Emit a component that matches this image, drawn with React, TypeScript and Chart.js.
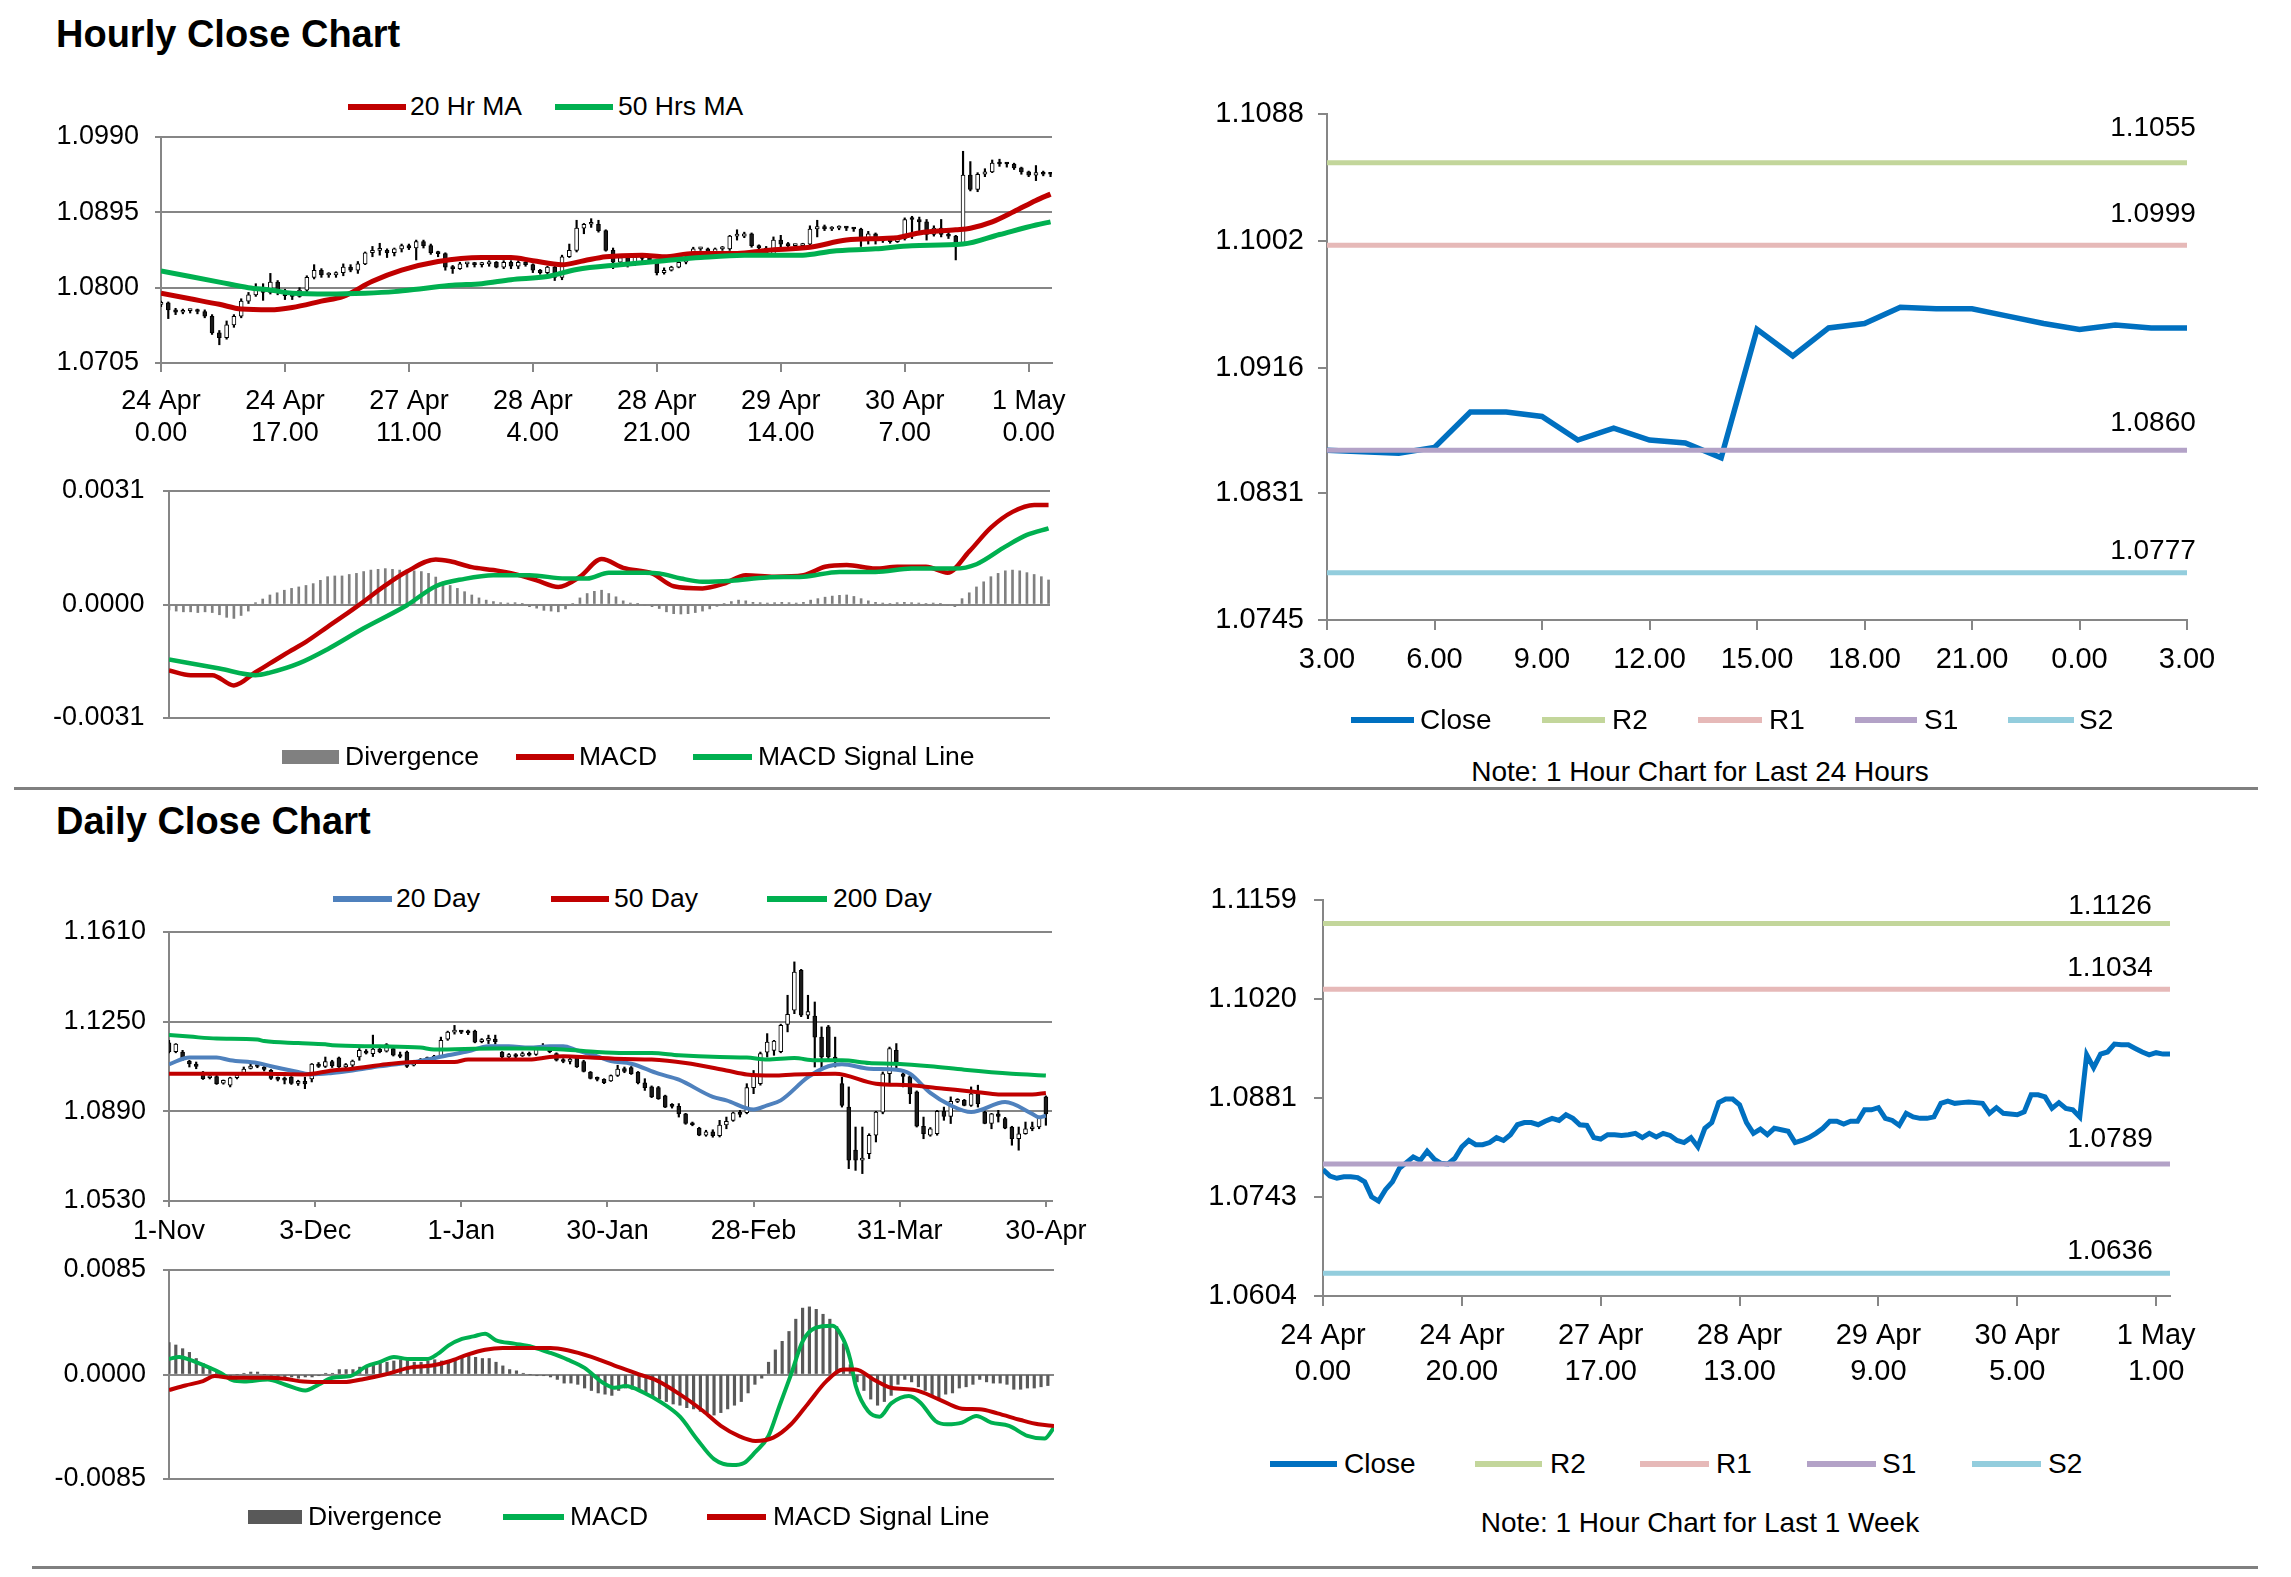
import React, { useEffect, useRef } from 'react';
import { Chart, registerables } from 'chart.js';

Chart.register(...registerables);

const FONT = "'Liberation Sans', Arial, Helvetica, sans-serif";
const GRID = '#868686';
const RED = '#C00000';
const GREEN = '#00B050';
const BLUE = '#4F81BD';
const CLOSE = '#0070C0';
const R2C = '#C3D69B';
const R1C = '#E6B9B8';
const S1C = '#B3A2C7';
const S2C = '#93CDDD';

// ---------------- Hourly candles (24 Apr 0:00 .. 1 May 3:00) ----------------
const hOpen = [
  1.0779, 1.0781, 1.0772, 1.0769, 1.0771, 1.0771, 1.0770, 1.0764, 1.0743, 1.0737,
  1.0753, 1.0764, 1.0783, 1.0791, 1.0799, 1.0794, 1.0807, 1.0796, 1.0790, 1.0789,
  1.0797, 1.0813, 1.0822, 1.0816, 1.0816, 1.0819, 1.0826, 1.0822, 1.0830, 1.0844,
  1.0847, 1.0847, 1.0844, 1.0849, 1.0853, 1.0850, 1.0858, 1.0853, 1.0844, 1.0843,
  1.0826, 1.0824, 1.0830, 1.0830, 1.0829, 1.0830, 1.0832, 1.0826, 1.0832, 1.0827,
  1.0832, 1.0829, 1.0822, 1.0819, 1.0826, 1.0813, 1.0839, 1.0847, 1.0875, 1.0880,
  1.0880, 1.0872, 1.0847, 1.0832, 1.0838, 1.0830, 1.0839, 1.0837, 1.0835, 1.0819,
  1.0822, 1.0826, 1.0832, 1.0839, 1.0849, 1.0849, 1.0845, 1.0849, 1.0849, 1.0865,
  1.0865, 1.0868, 1.0853, 1.0850, 1.0843, 1.0860, 1.0855, 1.0853, 1.0853, 1.0855,
  1.0874, 1.0877, 1.0874, 1.0875, 1.0876, 1.0875, 1.0874, 1.0860, 1.0868, 1.0860,
  1.0859, 1.0858, 1.0862, 1.0888, 1.0886, 1.0883, 1.0867, 1.0875, 1.0867, 1.0865,
  1.0855, 1.0942, 1.0924, 1.0943, 1.0946, 1.0957, 1.0957, 1.0956, 1.0951, 1.0946,
  1.0942, 1.0945, 1.0944,
];
const hHigh = [
  1.0783, 1.0782, 1.0774, 1.0773, 1.0773, 1.0773, 1.0772, 1.0766, 1.0746, 1.0758,
  1.0766, 1.0786, 1.0794, 1.0805, 1.0805, 1.0818, 1.0809, 1.0798, 1.0794, 1.0800,
  1.0815, 1.0829, 1.0824, 1.0819, 1.0820, 1.0830, 1.0829, 1.0833, 1.0845, 1.0852,
  1.0856, 1.0849, 1.0850, 1.0855, 1.0855, 1.0860, 1.0860, 1.0855, 1.0846, 1.0844,
  1.0828, 1.0832, 1.0832, 1.0832, 1.0832, 1.0834, 1.0833, 1.0834, 1.0834, 1.0834,
  1.0833, 1.0830, 1.0823, 1.0827, 1.0827, 1.0841, 1.0855, 1.0885, 1.0881, 1.0887,
  1.0885, 1.0873, 1.0850, 1.0841, 1.0839, 1.0841, 1.0841, 1.0840, 1.0836, 1.0825,
  1.0827, 1.0833, 1.0840, 1.0851, 1.0851, 1.0850, 1.0850, 1.0852, 1.0866, 1.0873,
  1.0870, 1.0869, 1.0854, 1.0852, 1.0864, 1.0866, 1.0857, 1.0855, 1.0856, 1.0878,
  1.0885, 1.0879, 1.0877, 1.0878, 1.0877, 1.0876, 1.0875, 1.0871, 1.0869, 1.0863,
  1.0862, 1.0864, 1.0888, 1.0890, 1.0889, 1.0886, 1.0878, 1.0886, 1.0870, 1.0866,
  1.0972, 1.0959, 1.0945, 1.0950, 1.0961, 1.0962, 1.0958, 1.0957, 1.0952, 1.0947,
  1.0954, 1.0947, 1.0945,
];
const hLow = [
  1.0776, 1.0761, 1.0766, 1.0767, 1.0768, 1.0767, 1.0762, 1.0741, 1.0728, 1.0735,
  1.0750, 1.0762, 1.0780, 1.0789, 1.0784, 1.0792, 1.0791, 1.0785, 1.0785, 1.0788,
  1.0794, 1.0811, 1.0813, 1.0813, 1.0813, 1.0815, 1.0820, 1.0818, 1.0829, 1.0839,
  1.0841, 1.0838, 1.0840, 1.0845, 1.0848, 1.0835, 1.0850, 1.0842, 1.0839, 1.0822,
  1.0818, 1.0823, 1.0826, 1.0826, 1.0826, 1.0827, 1.0825, 1.0824, 1.0824, 1.0824,
  1.0827, 1.0819, 1.0817, 1.0817, 1.0809, 1.0810, 1.0838, 1.0845, 1.0868, 1.0876,
  1.0870, 1.0846, 1.0824, 1.0830, 1.0826, 1.0828, 1.0834, 1.0833, 1.0816, 1.0817,
  1.0821, 1.0825, 1.0830, 1.0838, 1.0847, 1.0844, 1.0844, 1.0847, 1.0847, 1.0860,
  1.0863, 1.0851, 1.0848, 1.0842, 1.0842, 1.0851, 1.0849, 1.0849, 1.0850, 1.0853,
  1.0864, 1.0872, 1.0872, 1.0873, 1.0872, 1.0871, 1.0852, 1.0855, 1.0855, 1.0857,
  1.0856, 1.0857, 1.0860, 1.0862, 1.0870, 1.0860, 1.0865, 1.0864, 1.0862, 1.0835,
  1.0853, 1.0922, 1.0921, 1.0940, 1.0945, 1.0953, 1.0952, 1.0949, 1.0943, 1.0940,
  1.0935, 1.0941, 1.0940,
];
const hClose = [
  1.0781, 1.0772, 1.0769, 1.0771, 1.0771, 1.0770, 1.0764, 1.0743, 1.0737, 1.0753,
  1.0764, 1.0783, 1.0791, 1.0799, 1.0794, 1.0807, 1.0796, 1.0790, 1.0789, 1.0797,
  1.0813, 1.0822, 1.0816, 1.0816, 1.0819, 1.0826, 1.0822, 1.0830, 1.0844, 1.0847,
  1.0847, 1.0844, 1.0849, 1.0853, 1.0850, 1.0858, 1.0853, 1.0844, 1.0843, 1.0826,
  1.0824, 1.0830, 1.0830, 1.0829, 1.0830, 1.0832, 1.0826, 1.0832, 1.0827, 1.0832,
  1.0829, 1.0822, 1.0819, 1.0826, 1.0813, 1.0839, 1.0847, 1.0875, 1.0880, 1.0880,
  1.0872, 1.0847, 1.0832, 1.0838, 1.0830, 1.0839, 1.0837, 1.0835, 1.0819, 1.0822,
  1.0826, 1.0832, 1.0839, 1.0849, 1.0849, 1.0845, 1.0849, 1.0849, 1.0865, 1.0865,
  1.0868, 1.0853, 1.0850, 1.0843, 1.0860, 1.0855, 1.0853, 1.0853, 1.0855, 1.0874,
  1.0877, 1.0874, 1.0875, 1.0876, 1.0875, 1.0874, 1.0860, 1.0868, 1.0860, 1.0859,
  1.0858, 1.0862, 1.0886, 1.0886, 1.0883, 1.0867, 1.0875, 1.0867, 1.0865, 1.0855,
  1.0942, 1.0924, 1.0943, 1.0946, 1.0957, 1.0956, 1.0956, 1.0951, 1.0946, 1.0942,
  1.0945, 1.0943, 1.0943,
];

// hourly moving averages [barIndex, value]
const h20MA = [
  [0, 1.0793], [4, 1.0786], [8, 1.0779], [11, 1.0773], [15, 1.0772], [18, 1.0775], [22, 1.0783],
  [25, 1.0789], [29, 1.0808], [33, 1.0822], [38, 1.0833], [44, 1.0838], [48, 1.0838], [51, 1.0834],
  [55, 1.0829], [58, 1.0834], [61, 1.0839], [66, 1.0841], [69, 1.0839], [73, 1.0843], [79, 1.0843],
  [83, 1.0847], [89, 1.0851], [94, 1.0860], [99, 1.0862], [101, 1.0863], [104, 1.0869], [109, 1.0873],
  [111, 1.0875], [114, 1.0883], [117, 1.0896], [120, 1.0910], [122, 1.0918],
];
const h50MA = [
  [0, 1.0821], [4, 1.0814], [8, 1.0807], [12, 1.0800], [15, 1.0797], [18, 1.0793], [23, 1.0792],
  [28, 1.0793], [32, 1.0795], [36, 1.0799], [40, 1.0803], [44, 1.0805], [48, 1.0810], [53, 1.0814],
  [57, 1.0823], [63, 1.0829], [69, 1.0834], [74, 1.0838], [80, 1.0841], [88, 1.0841], [92, 1.0846],
  [98, 1.0849], [103, 1.0853], [110, 1.0855], [115, 1.0867], [120, 1.0879], [122, 1.0883],
];

// hourly MACD
const hMacd = [
  [0, -0.0018], [3, -0.00193], [6, -0.00193], [9, -0.00221], [12, -0.00185], [14, -0.00161],
  [17, -0.00125], [19, -0.00102], [22, -0.00061], [24, -0.00034], [27, 0.00008], [30, 0.00052],
  [33, 0.0009], [37, 0.00123], [39, 0.00118], [42, 0.00102], [45, 0.00094], [48, 0.00083],
  [51, 0.00066], [54, 0.00048], [57, 0.00076], [60, 0.00124], [63, 0.001], [67, 0.00085],
  [70, 0.0005], [74, 0.00044], [77, 0.00057], [80, 0.0008], [84, 0.00076], [88, 0.0008],
  [91, 0.00103], [94, 0.00108], [98, 0.00098], [101, 0.00103], [105, 0.00103], [108, 0.00087],
  [111, 0.00145], [114, 0.0021], [117, 0.00253], [120, 0.00272], [122, 0.00272],
];
const hSignal = [
  [0, -0.0015], [7, -0.00175], [12, -0.00193], [14, -0.00186], [18, -0.00161], [22, -0.00122],
  [27, -0.00065], [33, -0.00002], [37, 0.0005], [41, 0.0007], [45, 0.0008], [50, 0.0008],
  [55, 0.00071], [58, 0.00071], [61, 0.00087], [66, 0.00087], [68, 0.00085], [71, 0.00071],
  [74, 0.00062], [78, 0.00065], [83, 0.00074], [88, 0.00076], [93, 0.00089], [98, 0.00089],
  [103, 0.00098], [109, 0.00098], [112, 0.0011], [116, 0.00158], [119, 0.0019], [122, 0.00208],
];
const hDiv = [
  -0.00015, -0.00018, -0.0002, -0.0002, -0.00022, -0.0002, -0.00022, -0.00028, -0.00035, -0.00038,
  -0.0003, -0.00018, 0.00005, 0.00015, 0.00026, 0.00032, 0.00039, 0.00044, 0.00048, 0.00052,
  0.00057, 0.00066, 0.00076, 0.00078, 0.00078, 0.00082, 0.00085, 0.0009, 0.00094, 0.00096,
  0.00098, 0.00096, 0.00094, 0.00094, 0.00092, 0.0009, 0.00085, 0.00075, 0.00062, 0.00052,
  0.00044, 0.00035, 0.00026, 0.00018, 0.00012, 0.00008, 0.00005, 0.00004, 0.00005, 0.00002,
  -0.00006, -0.0001, -0.00016, -0.00018, -0.0002, -0.00012, 0.00003, 0.00018, 0.0003, 0.00036,
  0.00039, 0.0003, 0.00021, 0.0001, 0.00004, 0.00001, -0.00002, -0.00006, -0.00011, -0.0002,
  -0.00025, -0.00026, -0.00025, -0.00022, -0.00018, -0.00012, -0.00005, 0.00003, 0.00008, 0.00012,
  0.0001, 0.00006, 0.00005, 0.00004, 0.00005, 0.00006, 0.00005, 0.00004, 0.00006, 0.00012,
  0.00016, 0.0002, 0.00023, 0.00025, 0.00026, 0.00022, 0.00016, 0.0001, 0.00006, 0.00004,
  0.00003, 0.00005, 0.00006, 0.00005, 0.00004, 0.00003, 0.00004, 0.00002, -0.00003, -0.00006,
  0.00016, 0.00032, 0.00048, 0.00062, 0.00076, 0.00085, 0.00092, 0.00094, 0.00092, 0.00087,
  0.00082, 0.00076, 0.00067,
];

const hTickPos = [0, 17, 34, 51, 68, 85, 102, 119];
const hTickLabels = [
  ['24 Apr', '0.00'], ['24 Apr', '17.00'], ['27 Apr', '11.00'], ['28 Apr', '4.00'],
  ['28 Apr', '21.00'], ['29 Apr', '14.00'], ['30 Apr', '7.00'], ['1 May', '0.00'],
];
const hPriceTicks = [1.0705, 1.08, 1.0895, 1.099];
const hMacdTicks = [-0.0031, 0, 0.0031];

// ---------------- Last 24 hours & last week ----------------
const dayStart = 98; // 30 Apr 3:00
const dayTickPos = [0, 3, 6, 9, 12, 15, 18, 21, 24];
const dayTickLabels = ['3.00', '6.00', '9.00', '12.00', '15.00', '18.00', '21.00', '0.00', '3.00'];
const dayTicks = [1.0745, 1.0831, 1.0916, 1.1002, 1.1088];
const dayLevels = [1.1055, 1.0999, 1.086, 1.0777]; // R2, R1, S1, S2

const weekTickPos = [0, 20, 40, 60, 80, 100, 120];
const weekTickLabels = [
  ['24 Apr', '0.00'], ['24 Apr', '20.00'], ['27 Apr', '17.00'], ['28 Apr', '13.00'],
  ['29 Apr', '9.00'], ['30 Apr', '5.00'], ['1 May', '1.00'],
];
const weekTicks = [1.0604, 1.0743, 1.0881, 1.102, 1.1159];
const weekLevels = [1.1126, 1.1034, 1.0789, 1.0636]; // R2, R1, S1, S2

// ---------------- Daily candles (1 Nov .. 30 Apr) ----------------
const dOpen = [
  1.1165, 1.113, 1.1128, 1.1092, 1.108, 1.1048, 1.1025, 1.103, 1.1003, 1.0995,
  1.1025, 1.104, 1.1062, 1.1072, 1.1068, 1.1055, 1.1024, 1.1018, 1.1028, 1.1002,
  1.101, 1.102, 1.108, 1.107, 1.109, 1.1105, 1.1068, 1.1075, 1.1108, 1.113,
  1.1122, 1.114, 1.1132, 1.1142, 1.1115, 1.1128, 1.1075, 1.109, 1.1098, 1.1104,
  1.1112, 1.118, 1.1208, 1.121, 1.1208, 1.1212, 1.117, 1.1175, 1.118, 1.1128,
  1.1108, 1.1118, 1.1112, 1.1122, 1.1118, 1.114, 1.1148, 1.1122, 1.1095, 1.109,
  1.1105, 1.109, 1.1048, 1.1022, 1.1018, 1.1012, 1.1034, 1.1062, 1.1066, 1.1048,
  1.1004, 1.0988, 1.0985, 1.0952, 1.0918, 1.091, 1.088, 1.0843, 1.0822, 1.0794,
  1.0808, 1.0792, 1.0835, 1.0854, 1.0884, 1.0885, 1.0985, 1.1001, 1.1128, 1.1135,
  1.113, 1.1239, 1.1296, 1.1456, 1.1276, 1.1272, 1.1188, 1.1229, 1.1108, 1.1001,
  1.0907, 1.0734, 1.0694, 1.072, 1.0794, 1.0887, 1.1041, 1.1135, 1.1041, 1.103,
  1.0968, 1.083, 1.0794, 1.08, 1.089, 1.087, 1.093, 1.0934, 1.0914, 1.096,
  1.0887, 1.0841, 1.088, 1.0861, 1.0827, 1.078, 1.08, 1.082, 1.0827, 1.0948,
];
const dHigh = [
  1.1175, 1.1162, 1.1135, 1.1095, 1.1088, 1.105, 1.1034, 1.1035, 1.1016, 1.1027,
  1.1041, 1.1068, 1.1081, 1.108, 1.107, 1.1058, 1.1028, 1.1028, 1.103, 1.1015,
  1.1027, 1.1082, 1.1086, 1.1108, 1.1095, 1.1108, 1.1082, 1.1096, 1.1142, 1.1138,
  1.1196, 1.1145, 1.1162, 1.1148, 1.1128, 1.1132, 1.1095, 1.1102, 1.1108, 1.1115,
  1.1188, 1.1212, 1.1235, 1.1215, 1.1216, 1.1216, 1.1182, 1.1196, 1.1196, 1.113,
  1.1122, 1.1122, 1.1128, 1.1128, 1.1148, 1.1162, 1.115, 1.1125, 1.1102, 1.1108,
  1.1108, 1.1095, 1.105, 1.1028, 1.1021, 1.1036, 1.1075, 1.1068, 1.107, 1.105,
  1.1021, 1.0992, 1.099, 1.0955, 1.0921, 1.0921, 1.0882, 1.0847, 1.0826, 1.0814,
  1.0816, 1.0854, 1.0867, 1.0887, 1.0894, 1.1001, 1.1054, 1.1128, 1.1202, 1.1175,
  1.124, 1.1356, 1.149, 1.146, 1.1356, 1.1329, 1.1229, 1.1235, 1.1188, 1.1027,
  1.0988, 1.0827, 1.0827, 1.08, 1.089, 1.1048, 1.1148, 1.1162, 1.1045, 1.1034,
  1.0972, 1.0867, 1.0825, 1.0894, 1.0907, 1.0948, 1.0941, 1.0938, 1.0988, 1.0995,
  1.0892, 1.0882, 1.0894, 1.0866, 1.083, 1.0827, 1.0847, 1.0847, 1.0867, 1.0952,
];
const dLow = [
  1.1125, 1.1125, 1.1095, 1.1068, 1.1061, 1.1018, 1.102, 1.0998, 1.0999, 1.0988,
  1.102, 1.1038, 1.106, 1.1065, 1.1052, 1.1018, 1.1012, 1.1, 1.0998, 1.0994,
  1.0981, 1.1008, 1.1066, 1.1066, 1.1066, 1.1066, 1.1065, 1.1068, 1.1095, 1.112,
  1.111, 1.1125, 1.1128, 1.1112, 1.1105, 1.1066, 1.1072, 1.1085, 1.1095, 1.11,
  1.111, 1.1175, 1.12, 1.1202, 1.1198, 1.1165, 1.1165, 1.1162, 1.116, 1.1105,
  1.1104, 1.1105, 1.111, 1.1112, 1.1115, 1.1138, 1.1125, 1.1092, 1.1085, 1.108,
  1.1066, 1.1048, 1.102, 1.1012, 1.1001, 1.101, 1.103, 1.1045, 1.1038, 1.1,
  1.0974, 1.0945, 1.0938, 1.0905, 1.0903, 1.0867, 1.0838, 1.0832, 1.0792, 1.079,
  1.0786, 1.0787, 1.082, 1.085, 1.0867, 1.088, 1.0961, 1.0995, 1.1108, 1.1115,
  1.1125, 1.1209, 1.1282, 1.127, 1.1262, 1.1068, 1.1061, 1.11, 1.1068, 1.0907,
  1.066, 1.0653, 1.064, 1.07, 1.0767, 1.088, 1.1, 1.1054, 1.0988, 1.0921,
  1.0827, 1.078, 1.079, 1.0794, 1.0854, 1.0841, 1.0925, 1.0912, 1.091, 1.0907,
  1.084, 1.082, 1.0847, 1.082, 1.0754, 1.0734, 1.0798, 1.0812, 1.082, 1.0834,
];
const dClose = [
  1.113, 1.116, 1.1102, 1.108, 1.107, 1.1021, 1.103, 1.1001, 1.1014, 1.1025,
  1.1036, 1.106, 1.1072, 1.107, 1.1058, 1.1022, 1.1018, 1.1015, 1.1002, 1.101,
  1.1, 1.108, 1.107, 1.109, 1.1072, 1.1068, 1.1078, 1.1092, 1.1135, 1.1124,
  1.114, 1.113, 1.1158, 1.1115, 1.111, 1.107, 1.1088, 1.1098, 1.1104, 1.111,
  1.1175, 1.1208, 1.121, 1.1208, 1.1205, 1.1168, 1.1175, 1.118, 1.117, 1.1108,
  1.1118, 1.111, 1.1122, 1.1115, 1.114, 1.1148, 1.113, 1.1095, 1.109, 1.11,
  1.1068, 1.105, 1.1022, 1.1018, 1.1005, 1.1034, 1.106, 1.105, 1.1041, 1.1004,
  1.0985, 1.0948, 1.0941, 1.0907, 1.091, 1.088, 1.0841, 1.0836, 1.0794, 1.0808,
  1.0792, 1.0835, 1.085, 1.0884, 1.0878, 1.0985, 1.104, 1.1122, 1.1168, 1.1172,
  1.1235, 1.1279, 1.1449, 1.1276, 1.129, 1.1188, 1.1108, 1.1108, 1.11, 1.0914,
  1.0694, 1.0694, 1.07, 1.0794, 1.0887, 1.1041, 1.1142, 1.1088, 1.103, 1.096,
  1.083, 1.08, 1.082, 1.089, 1.087, 1.093, 1.0935, 1.0914, 1.096, 1.0921,
  1.0841, 1.088, 1.087, 1.0822, 1.078, 1.08, 1.082, 1.0825, 1.0862, 1.088,
];

const d20MA = [
  [0, 1.1079], [3, 1.1106], [7, 1.1106], [9, 1.1095], [13, 1.1084], [15, 1.1071], [19, 1.1048],
  [21, 1.1038], [24, 1.1044], [27, 1.1054], [31, 1.1071], [37, 1.1092], [41, 1.1115], [44, 1.1131],
  [47, 1.1151], [50, 1.1151], [53, 1.1146], [56, 1.1151], [58, 1.1151], [60, 1.1135], [63, 1.1111],
  [65, 1.1092], [68, 1.1081], [72, 1.1041], [75, 1.1017], [80, 1.0948], [82, 1.0934], [86, 1.0897],
  [88, 1.0914], [90, 1.0934], [94, 1.1027], [97, 1.1071], [99, 1.1079], [103, 1.1061], [107, 1.1057],
  [109, 1.1041], [112, 1.0964], [115, 1.0914], [118, 1.0887], [123, 1.0927], [127, 1.088],
  [128, 1.0866], [129, 1.0873],
];
const d50MA = [
  [0, 1.1041], [9, 1.1041], [14, 1.1041], [20, 1.1038], [24, 1.1054], [27, 1.1061], [32, 1.1079],
  [36, 1.1088], [42, 1.1088], [44, 1.1098], [48, 1.1098], [53, 1.1098], [56, 1.1108], [58, 1.1111],
  [62, 1.1106], [67, 1.11], [71, 1.1098], [76, 1.1084], [82, 1.1054], [85, 1.1038], [89, 1.1034],
  [92, 1.1038], [98, 1.1041], [104, 1.1001], [109, 1.0995], [114, 1.0981], [119, 1.0967],
  [122, 1.0958], [127, 1.0958], [129, 1.0964],
];
const d200MA = [
  [0, 1.1196], [3, 1.119], [7, 1.1182], [13, 1.1178], [14, 1.1172], [19, 1.1164], [23, 1.1159],
  [24, 1.1155], [31, 1.1151], [37, 1.1146], [39, 1.1138], [48, 1.1142], [53, 1.1142], [58, 1.1138],
  [63, 1.1128], [67, 1.1124], [71, 1.1124], [75, 1.1115], [81, 1.1108], [85, 1.1106], [88, 1.1098],
  [92, 1.1104], [95, 1.1095], [99, 1.1095], [103, 1.1084], [107, 1.1081], [112, 1.1071],
  [117, 1.1057], [124, 1.1041], [129, 1.1034],
];

const dMacd = [
  [0, 0.00127], [1.5, 0.00143], [3, 0.00121], [6, 0.00054], [7.6, 0.00013], [9.3, -0.00046],
  [11, -0.00057], [14.5, -0.0004], [17, -0.00081], [20, -0.0013], [22, -0.00081], [24, -0.00027],
  [26.6, -0.00013], [29, 0.00067], [31, 0.00103], [33, 0.00143], [35, 0.00127], [38, 0.00127],
  [39.5, 0.0017], [41, 0.00235], [43, 0.00289], [44.7, 0.0031], [46.4, 0.00332], [48, 0.00278],
  [50.7, 0.00251], [53.3, 0.00224], [56, 0.00175], [58.5, 0.00121], [61, 0.00054], [63.7, -0.00067],
  [65.4, -0.00108], [67, -0.00094], [69.7, -0.00148], [72.3, -0.00229], [75, -0.00343],
  [77.5, -0.00526], [80, -0.00688], [82.7, -0.00737], [84.4, -0.0072], [86, -0.00634],
  [88, -0.00499], [89.6, -0.00256], [91.3, 0], [93, 0.0027], [94.8, 0.00378], [97.4, 0.00397],
  [99, 0.00283], [100, 0.00121], [100.8, -0.00094], [102.6, -0.00297], [104.3, -0.00343],
  [106, -0.00235], [108.6, -0.00175], [110.3, -0.00229], [112.5, -0.00378], [114.2, -0.00405],
  [116.4, -0.00391], [118.5, -0.00337], [120.7, -0.00391], [123.3, -0.00418], [126, -0.00499],
  [128.5, -0.00521], [129.9, -0.00432],
];
const dSignal = [
  [0, -0.00127], [2.4, -0.00089], [5, -0.00054], [6.7, -0.00013], [9.3, -0.00027], [14.5, -0.00027],
  [17, -0.00035], [19.7, -0.00057], [23, -0.00062], [25.7, -0.00062], [28.3, -0.0004], [31.7, 0],
  [35.2, 0.00054], [38.6, 0.00073], [41.2, 0.00108], [43.8, 0.00162], [46.4, 0.00202], [49, 0.00216],
  [52.5, 0.00216], [56, 0.00216], [58.5, 0.00197], [62, 0.00143], [65.4, 0.00073], [69, 0],
  [71.5, -0.00046], [75, -0.00162], [78.4, -0.00297], [81, -0.00418], [83.6, -0.00499],
  [86.1, -0.0054], [88.7, -0.00513], [91.3, -0.00405], [93.9, -0.00229], [96.5, -0.00054],
  [99, 0.0004], [100.8, 0.0004], [103.4, -0.0004], [106, -0.00108], [109.5, -0.00127],
  [113, -0.00202], [116.4, -0.00278], [119, -0.00283], [121.6, -0.00316], [125, -0.0037],
  [127.6, -0.00405], [129.9, -0.00418],
];
const dDiv = [
  0.0026, 0.0024, 0.0021, 0.0018, 0.0013, 0.0009, 0.0005, 0.0002, 0.0, -0.0001,
  0.0, 0.0001, 0.0002, 0.0002, 0.0, -0.0001, -0.0002, -0.0002, -0.0002, -0.0003,
  -0.0002, -0.0002, -0.0001, 0.0001, 0.0001, 0.0004, 0.0004, 0.0004, 0.0006, 0.0007,
  0.0008, 0.0009, 0.001, 0.0011, 0.0012, 0.0012, 0.001, 0.001, 0.0011, 0.0012,
  0.0011, 0.0011, 0.0012, 0.0014, 0.0015, 0.0014, 0.0013, 0.0013, 0.001, 0.0007,
  0.0004, 0.0003, 0.0001, 0.0, -0.0001, -0.0001, -0.0002, -0.0004, -0.0007, -0.0007,
  -0.0008, -0.0011, -0.0013, -0.0015, -0.0016, -0.0017, -0.0013, -0.0011, -0.0012, -0.0013,
  -0.0016, -0.0018, -0.002, -0.0022, -0.0024, -0.0025, -0.0027, -0.0028, -0.003, -0.0031,
  -0.0033, -0.0031, -0.0028, -0.0025, -0.0022, -0.0015, -0.0008, -0.0003, 0.001, 0.002,
  0.0027, 0.0035, 0.0045, 0.0054, 0.0055, 0.0053, 0.0049, 0.0045, 0.0039, 0.0025,
  0.0008, -0.0006, -0.0013, -0.002, -0.0025, -0.0022, -0.0017, -0.0008, -0.0004, -0.0006,
  -0.001, -0.0013, -0.0018, -0.0019, -0.0016, -0.0015, -0.0011, -0.001, -0.0008, -0.0004,
  -0.0006, -0.0007, -0.0007, -0.0008, -0.0012, -0.0012, -0.0011, -0.0011, -0.001, -0.0009,
];

const dTickPos = [0, 21.5, 43, 64.5, 86, 107.5, 129];
const dTickLabels = ['1-Nov', '3-Dec', '1-Jan', '30-Jan', '28-Feb', '31-Mar', '30-Apr'];
const dPriceTicks = [1.053, 1.089, 1.125, 1.161];
const dMacdTicks = [-0.0085, 0, 0.0085];

// ---------------- helpers ----------------
function yAxis(o: any) {
  return {
    type: 'linear',
    position: 'left',
    min: o.min,
    max: o.max,
    afterBuildTicks: (s: any) => {
      s.ticks = o.ticks.map((v: number) => ({ value: v }));
    },
    afterFit: (s: any) => {
      s.width = o.width;
    },
    ticks: {
      autoSkip: false,
      padding: o.pad,
      color: '#000',
      font: { family: FONT, size: o.size },
      callback: (v: any) => Number(v).toFixed(4),
    },
    grid: {
      display: true,
      drawOnChartArea: o.onArea,
      drawTicks: true,
      tickLength: o.tl,
      color: GRID,
      lineWidth: 2,
      tickColor: GRID,
      tickWidth: 2,
    },
    border: { display: true, color: GRID, width: 2 },
  };
}

function xAxis(o: any) {
  return {
    type: 'linear',
    position: 'bottom',
    display: o.display !== false,
    min: o.min,
    max: o.max,
    offset: false,
    afterBuildTicks: (s: any) => {
      s.ticks = o.ticks.map((v: number) => ({ value: v }));
    },
    afterFit: (s: any) => {
      if (o.height !== undefined) s.height = o.height;
    },
    ticks: {
      autoSkip: false,
      maxRotation: 0,
      minRotation: 0,
      padding: o.pad || 0,
      color: '#000',
      font: { family: FONT, size: o.size || 27, lineHeight: o.lineHeight || 1.2 },
      callback: (v: any) => {
        const k = o.ticks.findIndex((t: number) => Math.abs(t - Number(v)) < 1e-6);
        return k >= 0 && o.labels ? o.labels[k] : '';
      },
    },
    grid: {
      display: true,
      offset: false,
      drawOnChartArea: false,
      drawTicks: true,
      tickLength: o.tl || 0,
      color: GRID,
      lineWidth: 2,
      tickColor: GRID,
      tickWidth: 2,
    },
    border: { display: true, color: GRID, width: 2 },
  };
}

function base(padding: any, scales: any, extra: any = {}) {
  return {
    animation: false,
    responsive: false,
    maintainAspectRatio: false,
    events: [],
    layout: { padding },
    plugins: { legend: { display: false }, tooltip: { enabled: false }, ...extra },
    scales,
  };
}

function curve(pairs: number[][], color: string, width: number, order: number) {
  return {
    type: 'line',
    data: pairs.map(([x, y]) => ({ x, y })),
    borderColor: color,
    backgroundColor: color,
    borderWidth: width,
    pointRadius: 0,
    fill: false,
    cubicInterpolationMode: 'monotone',
    order,
  };
}

function series(values: number[], color: string, width: number, order: number) {
  return {
    type: 'line',
    data: values.map((y, i) => ({ x: i, y })),
    borderColor: color,
    backgroundColor: color,
    borderWidth: width,
    pointRadius: 0,
    fill: false,
    tension: 0,
    order,
  };
}

function level(value: number, xMax: number, color: string, dy: number, order: number) {
  return {
    type: 'line',
    data: [
      { x: 0, y: value },
      { x: xMax, y: value },
    ],
    borderColor: color,
    backgroundColor: color,
    borderWidth: 5,
    pointRadius: 0,
    fill: false,
    order,
    levelValue: value,
    labelDy: dy,
  };
}

function candles(o: number[], h: number[], l: number[], c: number[], bodyW: number, order: number) {
  return [
    {
      type: 'bar',
      data: l.map((v, i) => ({ x: i, y: [v, h[i]] })),
      backgroundColor: '#000',
      borderWidth: 0,
      barThickness: 1.5,
      grouped: false,
      order: order + 1,
    },
    {
      type: 'bar',
      data: o.map((v, i) => ({ x: i, y: [v, c[i]] })),
      backgroundColor: o.map((v, i) => (c[i] >= v ? '#FFFFFF' : '#1A1A1A')),
      borderColor: '#000',
      borderWidth: 1,
      borderSkipped: false,
      barThickness: bodyW,
      minBarLength: 2,
      grouped: false,
      order,
    },
  ];
}

function histo(vals: number[], color: string, w: number) {
  return {
    type: 'bar',
    data: vals.map((y, i) => ({ x: i, y })),
    backgroundColor: color,
    borderWidth: 0,
    barThickness: w,
    grouped: false,
    order: 9,
  };
}

const levelLabelPlugin = {
  id: 'levelLabels',
  afterDatasetsDraw(chart: any, _args: any, opts: any) {
    const { ctx, chartArea, scales } = chart;
    ctx.save();
    ctx.font = `${opts.size}px ${FONT}`;
    ctx.fillStyle = '#000';
    ctx.textAlign = 'center';
    ctx.textBaseline = 'middle';
    chart.data.datasets.forEach((ds: any) => {
      if (ds.levelValue === undefined) return;
      const y = scales.y.getPixelForValue(ds.levelValue);
      ctx.fillText(ds.levelValue.toFixed(4), chartArea.right + opts.dx, y - ds.labelDy);
    });
    ctx.restore();
  },
};

// ---------------- chart configs ----------------
const makeHourly = () => ({
  type: 'bar',
  data: {
    datasets: [
      curve(h50MA, GREEN, 5, 0),
      curve(h20MA, RED, 5, 1),
      ...candles(hOpen, hHigh, hLow, hClose, 4, 2),
    ],
  },
  options: base(
    { top: 37, right: 48, left: 0, bottom: 0 },
    {
      x: xAxis({ min: 0, max: 122.2, ticks: hTickPos, labels: hTickLabels, height: 97, tl: 9, pad: 14.5, size: 27, lineHeight: 1.15 }),
      y: yAxis({ min: 1.0705, max: 1.099, ticks: hPriceTicks, width: 161, tl: 6, pad: 16, size: 27, onArea: true }),
    }
  ),
});

const makeHourlyMacd = () => ({
  type: 'bar',
  data: {
    datasets: [curve(hSignal, GREEN, 4.5, 0), curve(hMacd, RED, 4.5, 1), histo(hDiv, '#808080', 2)],
  },
  options: base(
    { top: 41, right: 50, left: 0, bottom: 40 },
    {
      x: xAxis({ min: 0, max: 122.2, ticks: hTickPos, display: false }),
      y: yAxis({ min: -0.0031, max: 0.0031, ticks: hMacdTicks, width: 169, tl: 6, pad: 18.5, size: 27, onArea: true }),
    }
  ),
});

const makeDay = () => ({
  type: 'line',
  data: {
    datasets: [
      series(hClose.slice(dayStart), CLOSE, 5.5, 5),
      level(dayLevels[0], 24, R2C, 34, 1),
      level(dayLevels[1], 24, R1C, 31, 2),
      level(dayLevels[2], 24, S1C, 27, 3),
      level(dayLevels[3], 24, S2C, 22, 4),
    ],
  },
  options: base(
    { top: 34, right: 53, left: 0, bottom: 0 },
    {
      x: xAxis({ min: 0, max: 24, ticks: dayTickPos, labels: dayTickLabels, height: 90, tl: 10, pad: 12.6, size: 29, lineHeight: 1.2 }),
      y: yAxis({ min: 1.0745, max: 1.1088, ticks: dayTicks, width: 177, tl: 9, pad: 14, size: 29, onArea: false }),
    },
    { levelLabels: { dx: -34, size: 28 } }
  ),
  plugins: [levelLabelPlugin],
});

const makeDaily = () => ({
  type: 'bar',
  data: {
    datasets: [
      curve(d200MA, GREEN, 4, 0),
      curve(d50MA, RED, 4, 1),
      curve(d20MA, BLUE, 4, 2),
      ...candles(dOpen, dHigh, dLow, dClose, 4, 3),
    ],
  },
  options: base(
    { top: 42, right: 48, left: 0, bottom: 0 },
    {
      x: xAxis({ min: 0, max: 129.9, ticks: dTickPos, labels: dTickLabels, height: 49, tl: 6, pad: 8.4, size: 27, lineHeight: 1.2 }),
      y: yAxis({ min: 1.053, max: 1.161, ticks: dPriceTicks, width: 169, tl: 6, pad: 17, size: 27, onArea: true }),
    }
  ),
});

const makeDailyMacd = () => ({
  type: 'bar',
  data: {
    datasets: [curve(dSignal, RED, 4, 0), curve(dMacd, GREEN, 4, 1), histo(dDiv, '#595959', 2.5)],
  },
  options: base(
    { top: 40, right: 46, left: 0, bottom: 40 },
    {
      x: xAxis({ min: 0, max: 129.9, ticks: dTickPos, display: false }),
      y: yAxis({ min: -0.0085, max: 0.0085, ticks: dMacdTicks, width: 169, tl: 6, pad: 17, size: 27, onArea: true }),
    }
  ),
});

const makeWeek = () => ({
  type: 'line',
  data: {
    datasets: [
      series(hClose, CLOSE, 5, 5),
      level(weekLevels[0], 122, R2C, 17.5, 1),
      level(weekLevels[1], 122, R1C, 20.5, 2),
      level(weekLevels[2], 122, S1C, 25, 3),
      level(weekLevels[3], 122, S2C, 22, 4),
    ],
  },
  options: base(
    { top: 40, right: 70, left: 0, bottom: 0 },
    {
      x: xAxis({ min: 0, max: 122, ticks: weekTickPos, labels: weekTickLabels, height: 104, tl: 10, pad: 12, size: 29, lineHeight: 1.24 }),
      y: yAxis({ min: 1.0604, max: 1.1159, ticks: weekTicks, width: 173, tl: 9, pad: 17, size: 29, onArea: false }),
    },
    { levelLabels: { dx: -60, size: 28 } }
  ),
  plugins: [levelLabelPlugin],
});

// ---------------- components ----------------
function ChartBox({ left, top, width, height, make }: any) {
  const ref = useRef<HTMLCanvasElement | null>(null);
  useEffect(() => {
    if (!ref.current) return;
    const chart = new Chart(ref.current, make());
    return () => chart.destroy();
  }, []);
  return (
    <canvas
      ref={ref}
      width={width}
      height={height}
      style={{ position: 'absolute', left, top, width, height }}
    />
  );
}

function Txt({ x, y, size, bold, center, children }: any) {
  const style: any = {
    position: 'absolute',
    top: y - 0.59 * size,
    fontSize: size,
    lineHeight: `${size * 1.2}px`,
    whiteSpace: 'nowrap',
    fontWeight: bold ? 700 : 400,
    color: '#000',
  };
  if (center) {
    style.left = x - 600;
    style.width = 1200;
    style.textAlign = 'center';
  } else {
    style.left = x;
  }
  return <div style={style}>{children}</div>;
}

function Swatch({ x1, x2, y, h, color }: any) {
  return (
    <div style={{ position: 'absolute', left: x1, top: y - h / 2, width: x2 - x1, height: h, background: color }} />
  );
}

function Rule({ x1, x2, y }: any) {
  return <div style={{ position: 'absolute', left: x1, top: y - 1.5, width: x2 - x1, height: 3, background: '#808080' }} />;
}

export default function App() {
  useEffect(() => {
    document.body.style.margin = '0';
    document.body.style.background = '#fff';
  }, []);
  const L = 26.5;
  const R = 28;
  return (
    <div
      style={{
        position: 'absolute',
        left: 0,
        top: 0,
        width: 2291,
        height: 1577,
        overflow: 'hidden',
        background: '#fff',
        fontFamily: FONT,
      }}
    >
      <Txt x={56} y={34} size={38} bold>Hourly Close Chart</Txt>
      <Txt x={56} y={821} size={38} bold>Daily Close Chart</Txt>

      {/* hourly legend */}
      <Swatch x1={348} x2={406} y={107} h={6} color={RED} />
      <Txt x={410} y={107} size={L}>20 Hr MA</Txt>
      <Swatch x1={555} x2={613} y={107} h={6} color={GREEN} />
      <Txt x={618} y={107} size={L}>50 Hrs MA</Txt>

      <ChartBox left={0} top={100} width={1100} height={360} make={makeHourly} />
      <ChartBox left={0} top={450} width={1100} height={308} make={makeHourlyMacd} />

      {/* hourly MACD legend */}
      <Swatch x1={282} x2={339} y={757} h={14} color="#808080" />
      <Txt x={345} y={757} size={L}>Divergence</Txt>
      <Swatch x1={516} x2={574} y={757} h={6} color={RED} />
      <Txt x={579} y={757} size={L}>MACD</Txt>
      <Swatch x1={693} x2={752} y={757} h={6} color={GREEN} />
      <Txt x={758} y={757} size={L}>MACD Signal Line</Txt>

      <ChartBox left={1150} top={80} width={1090} height={630} make={makeDay} />
      <Swatch x1={1351} x2={1414} y={720} h={6.5} color={CLOSE} />
      <Txt x={1420} y={720} size={R}>Close</Txt>
      <Swatch x1={1542} x2={1605} y={720} h={6.5} color={R2C} />
      <Txt x={1612} y={720} size={R}>R2</Txt>
      <Swatch x1={1698} x2={1762} y={720} h={6.5} color={R1C} />
      <Txt x={1769} y={720} size={R}>R1</Txt>
      <Swatch x1={1855} x2={1917} y={720} h={6.5} color={S1C} />
      <Txt x={1924} y={720} size={R}>S1</Txt>
      <Swatch x1={2008} x2={2074} y={720} h={6.5} color={S2C} />
      <Txt x={2079} y={720} size={R}>S2</Txt>
      <Txt x={1700} y={771.5} size={R} center>Note: 1 Hour Chart for Last 24 Hours</Txt>

      <Rule x1={14} x2={2258} y={788} />

      {/* daily legend */}
      <Swatch x1={333} x2={392} y={898.5} h={6} color={BLUE} />
      <Txt x={396} y={898.5} size={L}>20 Day</Txt>
      <Swatch x1={551} x2={609} y={898.5} h={6} color={RED} />
      <Txt x={614} y={898.5} size={L}>50 Day</Txt>
      <Swatch x1={767} x2={827} y={898.5} h={6} color={GREEN} />
      <Txt x={833} y={898.5} size={L}>200 Day</Txt>

      <ChartBox left={0} top={890} width={1100} height={360} make={makeDaily} />
      <ChartBox left={0} top={1230} width={1100} height={289} make={makeDailyMacd} />

      {/* daily MACD legend */}
      <Swatch x1={248} x2={302} y={1516.5} h={14} color="#595959" />
      <Txt x={308} y={1516.5} size={L}>Divergence</Txt>
      <Swatch x1={503} x2={564} y={1516.5} h={6} color={GREEN} />
      <Txt x={570} y={1516.5} size={L}>MACD</Txt>
      <Swatch x1={707} x2={766} y={1516.5} h={6} color={RED} />
      <Txt x={773} y={1516.5} size={L}>MACD Signal Line</Txt>

      <ChartBox left={1150} top={860} width={1090} height={540} make={makeWeek} />
      <Swatch x1={1270} x2={1337} y={1464} h={6.5} color={CLOSE} />
      <Txt x={1344} y={1464} size={R}>Close</Txt>
      <Swatch x1={1475} x2={1542} y={1464} h={6.5} color={R2C} />
      <Txt x={1550} y={1464} size={R}>R2</Txt>
      <Swatch x1={1640} x2={1709} y={1464} h={6.5} color={R1C} />
      <Txt x={1716} y={1464} size={R}>R1</Txt>
      <Swatch x1={1807} x2={1876} y={1464} h={6.5} color={S1C} />
      <Txt x={1882} y={1464} size={R}>S1</Txt>
      <Swatch x1={1972} x2={2041} y={1464} h={6.5} color={S2C} />
      <Txt x={2048} y={1464} size={R}>S2</Txt>
      <Txt x={1700} y={1523} size={R} center>Note: 1 Hour Chart for Last 1 Week</Txt>

      <Rule x1={32} x2={2258} y={1567} />
    </div>
  );
}
